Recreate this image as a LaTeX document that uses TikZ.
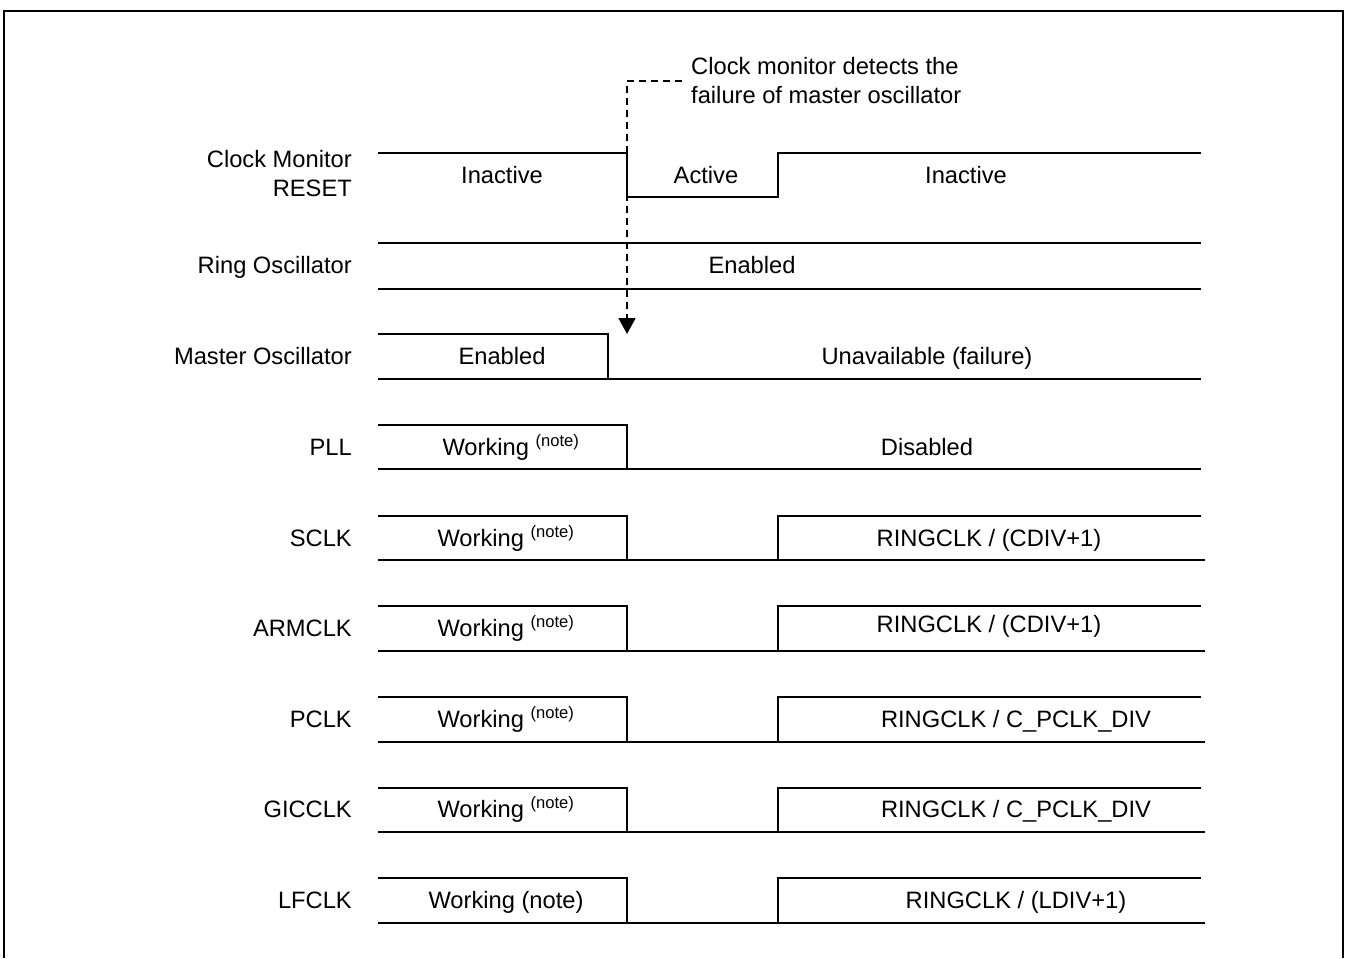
\documentclass[tikz,border=0pt]{standalone}
\usepackage{fontspec}
\setmainfont{Liberation Sans}
\usetikzlibrary{arrows.meta}

\tikzset{
  wave/.style={line width=2.2pt},
  signame/.style={anchor=base east, inner sep=0pt},
  state/.style={anchor=base, inner sep=0pt},
  hint/.style={line width=1.8pt, dash pattern=on 7pt off 5pt},
}
\newcommand{\wnote}{Working \textsuperscript{(note)}}

\begin{document}
\begin{tikzpicture}[x=1pt, y=-1pt, font=\fontsize{23.7}{29}\selectfont]
\useasboundingbox (0,0) rectangle (1348,958);
\draw [line width=2.8pt] (4,958) -- (4,11) -- (1343,11) -- (1343,958);

% signal names
\node (cmreset) at (352,174) [anchor=east, inner sep=0pt, align=right] {Clock Monitor\\RESET};
\node (ringosc) at (352,273.5) [signame] {Ring Oscillator};
\node (mainosc) at (352,364.5) [signame] {Master Oscillator};
\node (pll) at (352,455.5) [signame] {PLL};
\node (sclk) at (352,546.5) [signame] {SCLK};
\node (armclk) at (352,636.5) [signame] {ARMCLK};
\node (pclk) at (352,727.5) [signame] {PCLK};
\node (gicclk) at (352,817.5) [signame] {GICCLK};
\node (lfclk) at (352,908.5) [signame] {LFCLK};

% clock monitor reset
\draw [wave] (378,153) -- (627,153) -- (627,197) -- (778,197) -- (778,153) -- (1201,153);
\node (cmr1) at (502,183.5) [state] {Inactive};
\node (cmr2) at (706,183.5) [state] {Active};
\node (cmr3) at (966,183.5) [state] {Inactive};

% ring oscillator
\draw [wave] (378,243) -- (1201,243);
\draw [wave] (378,289) -- (1201,289);
\node (ro1) at (752,273.5) [state] {Enabled};

% master oscillator
\draw [wave] (378,334) -- (608,334) -- (608,379);
\draw [wave] (378,379) -- (1201,379);
\node (mo1) at (502,364.5) [state] {Enabled};
\node (mo2) at (927,364.5) [state] {Unavailable (failure)};

% pll
\draw [wave] (378,425) -- (627,425) -- (627,469);
\draw [wave] (378,469) -- (1201,469);
\node (pll1) at (511,455.5) [state] {\wnote};
\node (pll2) at (927,455.5) [state] {Disabled};

% sclk
\draw [wave] (378,516) -- (627,516) -- (627,560);
\draw [wave] (378,560) -- (1205,560);
\draw [wave] (778,560) -- (778,516) -- (1201,516);
\node (sclk1) at (506,546.5) [state] {\wnote};
\node (sclk2) at (989,546.5) [state] {RINGCLK / (CDIV+1)};

% armclk
\draw [wave] (378,606) -- (627,606) -- (627,651);
\draw [wave] (378,651) -- (1205,651);
\draw [wave] (778,651) -- (778,606) -- (1201,606);
\node (arm1) at (506,636.5) [state] {\wnote};
\node (arm2) at (989,632.5) [state] {RINGCLK / (CDIV+1)};

% pclk
\draw [wave] (378,697) -- (627,697) -- (627,742);
\draw [wave] (378,742) -- (1205,742);
\draw [wave] (778,742) -- (778,697) -- (1201,697);
\node (pclk1) at (506,727.5) [state] {\wnote};
\node (pclk2) at (1016,727.5) [state] {RINGCLK / C\_PCLK\_DIV};

% gicclk
\draw [wave] (378,788) -- (627,788) -- (627,832);
\draw [wave] (378,832) -- (1205,832);
\draw [wave] (778,832) -- (778,788) -- (1201,788);
\node (gic1) at (506,817.5) [state] {\wnote};
\node (gic2) at (1016,817.5) [state] {RINGCLK / C\_PCLK\_DIV};

% lfclk
\draw [wave] (378,878) -- (627,878) -- (627,923);
\draw [wave] (378,923) -- (1205,923);
\draw [wave] (778,923) -- (778,878) -- (1201,878);
\node (lf1) at (506,908.5) [state] {Working (note)};
\node (lf2) at (1016,908.5) [state] {RINGCLK / (LDIV+1)};

% failure detection
\node (fail) at (682,81) [anchor=west, inner xsep=9pt, inner ysep=0pt, align=left] {Clock monitor detects the\\failure of master oscillator};
\coordinate (hit) at (627,334);
\draw [hint, -{Triangle[width=17pt,length=16pt]}] (fail.west) -| (hit);
\end{tikzpicture}
\end{document}
